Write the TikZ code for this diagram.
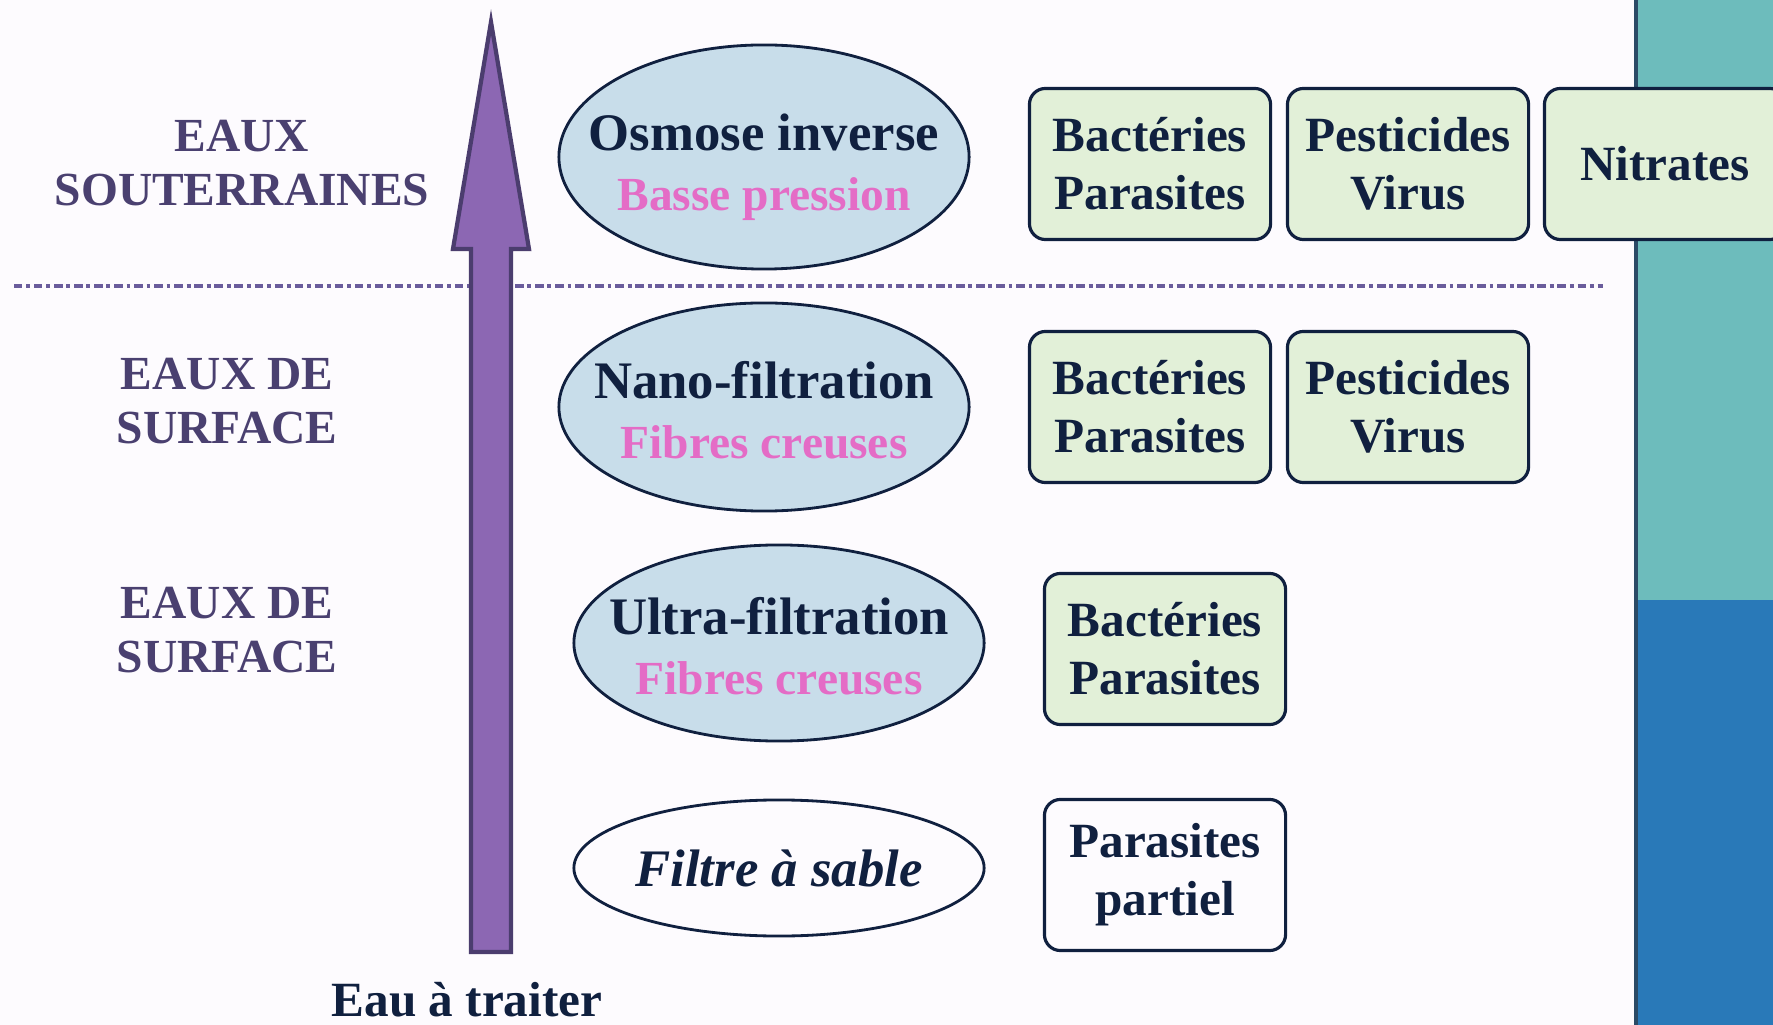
\documentclass[tikz,border=0pt]{standalone}
\usepackage{fontspec}
\setmainfont{Liberation Serif}
\usetikzlibrary{shapes.geometric}

\definecolor{paper}{HTML}{FDFBFE}
\definecolor{bandteal}{HTML}{6DBCBC}
\definecolor{bandblue}{HTML}{2979B8}
\definecolor{bandedge}{HTML}{2B4A66}
\definecolor{inkdark}{HTML}{10203F}
\definecolor{labelink}{HTML}{4A4070}
\definecolor{pinkink}{HTML}{E46CC6}
\definecolor{ellfill}{HTML}{C8DDEA}
\definecolor{boxfill}{HTML}{E2F0D8}
\definecolor{arrowfill}{HTML}{8C67B3}
\definecolor{arrowedge}{HTML}{4B3D6E}
\definecolor{sepcol}{HTML}{6A5C9C}

\begin{document}
\begin{tikzpicture}[x=0.01cm, y=-0.01cm,
  membrane/.style={ellipse, draw=inkdark, line width=0.8pt, fill=ellfill,
    minimum width=4.1cm, inner sep=0pt},
  membranetext/.style={align=center, text=inkdark, inner sep=0pt,
    font=\bfseries\fontsize{15}{17}\selectfont},
  removed/.style={rectangle, rounded corners=0.16cm, draw=inkdark, line width=0.9pt,
    fill=boxfill, minimum width=2.41cm, minimum height=1.51cm, inner sep=0pt,
    align=center, text=inkdark, font=\bfseries\fontsize{14}{16.5}\selectfont},
  source/.style={align=center, text=labelink, font=\bfseries\fontsize{13.5}{15.5}\selectfont},
  sepline/.style={draw=sepcol, line width=0.9pt, dash pattern=on 2.4pt off 1.1pt on 1.1pt off 1.1pt}
]
\useasboundingbox (0,0) rectangle (1773,1025);
\fill[paper] (0,0) rectangle (1773,1025);

% coloured band on the right-hand side
\fill[bandteal] (1636,0) rectangle (1773,600);
\fill[bandblue] (1636,600) rectangle (1773,1025);
\draw[bandedge, line width=1pt] (1636,0) -- (1636,1025);

% dotted separator between ground water and surface water
\coordinate (sepL) at (14,286);
\coordinate (sepR) at (1603,286);
\draw[sepline] (sepL) -- (sepR);

% big upward arrow (treatment level)
\coordinate (arrTip) at (491,22);
\coordinate (arrBase) at (491,952);
\filldraw[fill=arrowfill, draw=arrowedge, line width=1.2pt, line join=miter]
  (arrBase) ++(-20,0) -- (471,249) -- (453,249) -- (arrTip) -- (529,249)
  -- (511,249) -- (511,952) -- cycle;

% water sources
\node[source] (gw) at (242,163) {EAUX\\SOUTERRAINES};
\node[source] (sw1) at (227,401) {EAUX DE\\SURFACE};
\node[source] (sw2) at (227,630) {EAUX DE\\SURFACE};
\node[text=inkdark, font=\bfseries\fontsize{14}{16}\selectfont] (raw) at (467,1000) {Eau à traiter};

% treatment processes
\node[membrane, minimum height=2.24cm] (ro) at (764,157) {};
\node[membranetext] (roT) at ([yshift=-0.1cm]ro.center)
  {Osmose inverse\\{\color{pinkink}\fontsize{13.5}{17}\selectfont Basse pression}};
\node[membrane, minimum height=2.08cm] (nf) at (764,407) {};
\node[membranetext] (nfT) at ([yshift=-0.03cm]nf.center)
  {Nano-filtration\\{\color{pinkink}\fontsize{13.5}{17}\selectfont Fibres creuses}};
\node[membrane, minimum height=1.96cm] (uf) at (779,643) {};
\node[membranetext] (ufT) at ([yshift=-0.03cm]uf.center)
  {Ultra-filtration\\{\color{pinkink}\fontsize{13.5}{17}\selectfont Fibres creuses}};
\node[membrane, fill=paper, minimum height=1.36cm] (sand) at (779,868) {};
\node[membranetext, font=\bfseries\itshape\fontsize{15}{17}\selectfont] (sandT)
  at (sand.center) {Filtre à sable};

% what each process removes
\node[removed] (ro1) at (1150,164) {Bactéries\\Parasites};
\node[removed] (ro2) at (1408,164) {Pesticides\\Virus};
\node[removed] (ro3) at (1665,164) {Nitrates};

\node[removed] (nf1) at (1150,407) {Bactéries\\Parasites};
\node[removed] (nf2) at (1408,407) {Pesticides\\Virus};

\node[removed] (uf1) at (1165,649) {Bactéries\\Parasites};

\node[removed, fill=paper] (sd1) at (1165,875) {Parasites\\partiel};
\end{tikzpicture}
\end{document}
